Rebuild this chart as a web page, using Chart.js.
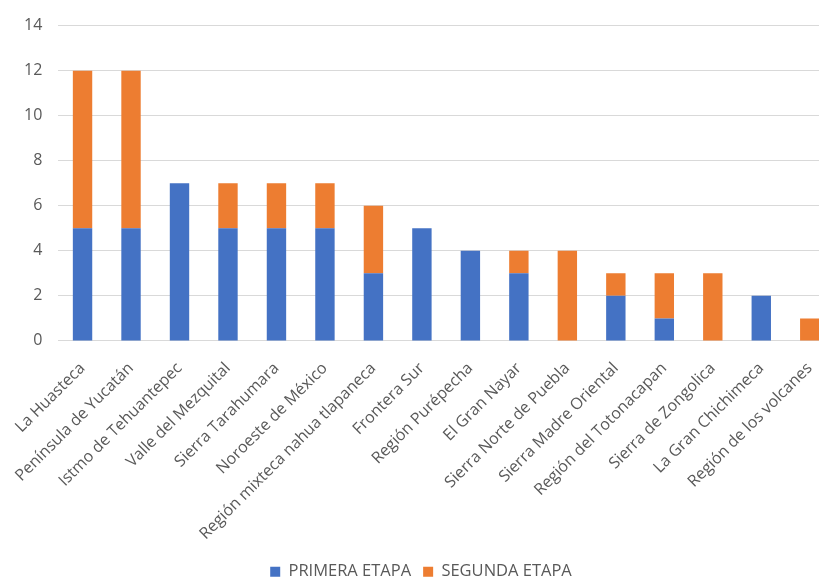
<!DOCTYPE html>
<html>
<head>
<meta charset="utf-8">
<script src="https://cdn.jsdelivr.net/npm/chart.js@4"></script>
<style>
  html, body { margin: 0; padding: 0; background: #fff; overflow: hidden; }
  #wrap { width: 834px; height: 581px; }
</style>
</head>
<body>
<div id="wrap"><canvas id="grafico"></canvas></div>
<script>
// regiones y valores
const regiones = [
    'La Huasteca', 'Península de Yucatán', 'Istmo de Tehuantepec', 'Valle del Mezquital',
    'Sierra Tarahumara', 'Noroeste de México', 'Región mixteca nahua tlapaneca', 'Frontera Sur',
    'Región Purépecha', 'El Gran Nayar', 'Sierra Norte de Puebla', 'Sierra Madre Oriental',
    'Región del Totonacapan', 'Sierra de Zongolica', 'La Gran Chichimeca', 'Región de los volcanes'
];
const primeraEtapa = [5, 5, 7, 5, 5, 5, 3, 5, 4, 3, 0, 2, 1, 0, 2, 0];
const segundaEtapa = [7, 7, 0, 2, 2, 2, 3, 0, 0, 1, 4, 1, 2, 3, 0, 1];

const fuente = "'Open Sans', sans-serif";
const gris = '#595959';

new Chart(document.getElementById('grafico'), {
    type: 'bar',
    data: {
        labels: regiones,
        datasets: [
            {
                label: 'PRIMERA ETAPA',
                data: primeraEtapa,
                backgroundColor: '#4472C4',
                barPercentage: 0.4,
                categoryPercentage: 1.0
            },
            {
                label: 'SEGUNDA ETAPA',
                data: segundaEtapa,
                backgroundColor: '#ED7D31',
                barPercentage: 0.4,
                categoryPercentage: 1.0
            }
        ]
    },
    options: {
        responsive: true,
        maintainAspectRatio: false,
        animation: false,
        layout: { padding: { top: -1, left: 8, right: 0, bottom: -9 } },
        plugins: {
            legend: {
                position: 'bottom',
                labels: {
                    color: gris,
                    boxWidth: 10,
                    boxHeight: 10,
                    padding: 12,
                    font: { family: fuente, size: 16.5 }
                }
            },
            tooltip: { enabled: false }
        },
        scales: {
            x: {
                stacked: true,
                grid: { display: false },
                border: { display: false },
                // deja las etiquetas un poco más cerca de la leyenda
                afterFit: (escala) => { escala.height -= 2; },
                ticks: {
                    color: gris,
                    minRotation: 45,
                    maxRotation: 45,
                    autoSkip: false,
                    padding: 10,
                    font: { family: fuente, size: 16 }
                }
            },
            y: {
                stacked: true,
                min: 0,
                max: 14,
                border: { display: false },
                grid: { color: '#d9d9d9', drawTicks: false },
                ticks: {
                    stepSize: 2,
                    color: gris,
                    padding: 16,
                    font: { family: fuente, size: 16 }
                }
            }
        }
    }
});
</script>
</body>
</html>
